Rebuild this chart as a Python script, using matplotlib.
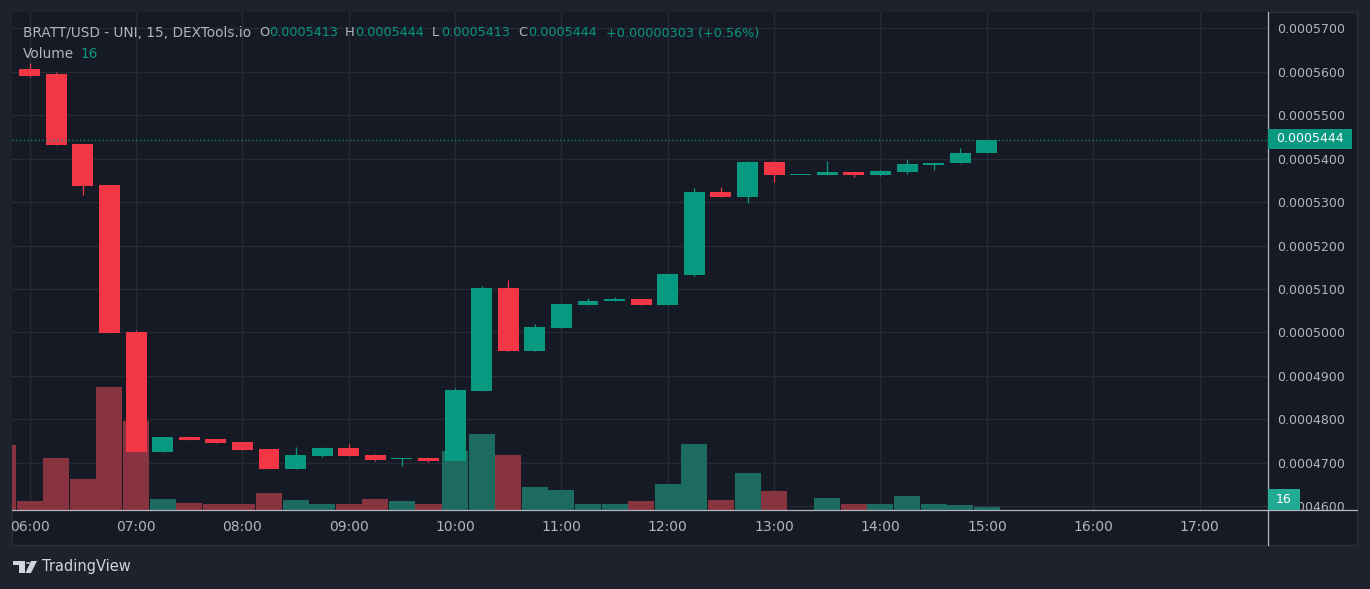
import matplotlib
matplotlib.use("Agg")
import matplotlib.pyplot as plt
from matplotlib.patches import Rectangle, Polygon, Circle
from matplotlib.lines import Line2D

# 15 min candles, BRATT/USD
times = ["06:00", "06:15", "06:30", "06:45", "07:00", "07:15", "07:30", "07:45",
         "08:00", "08:15", "08:30", "08:45", "09:00", "09:15", "09:30", "09:45",
         "10:00", "10:15", "10:30", "10:45", "11:00", "11:15", "11:30", "11:45",
         "12:00", "12:15", "12:30", "12:45", "13:00", "13:15", "13:30", "13:45",
         "14:00", "14:15", "14:30", "14:45", "15:00"]
opens = [0.0005607, 0.0005595, 0.0005434, 0.0005339, 0.0005001, 0.0004725, 0.0004759, 0.0004754,
         0.0004747, 0.0004731, 0.0004686, 0.0004716, 0.0004733, 0.0004717, 0.0004709, 0.0004710,
         0.0004703, 0.0004865, 0.0005102, 0.0004958, 0.0005011, 0.0005064, 0.0005071, 0.0005077,
         0.0005064, 0.0005133, 0.0005323, 0.0005312, 0.0005392, 0.0005362, 0.0005362, 0.0005369,
         0.0005362, 0.0005369, 0.0005386, 0.0005389, 0.0005413]
highs = [0.0005621, 0.0005600, 0.0005434, 0.0005340, 0.0005005, 0.0004759, 0.0004762, 0.0004754,
         0.0004747, 0.0004731, 0.0004736, 0.0004736, 0.0004743, 0.0004720, 0.0004711, 0.0004710,
         0.0004871, 0.0005107, 0.0005121, 0.0005019, 0.0005065, 0.0005079, 0.0005082, 0.0005077,
         0.0005134, 0.0005332, 0.0005335, 0.0005394, 0.0005394, 0.0005363, 0.0005394, 0.0005369,
         0.0005373, 0.0005399, 0.0005391, 0.0005424, 0.0005444]
lows = [0.0005589, 0.0005432, 0.0005316, 0.0004999, 0.0004725, 0.0004725, 0.0004753, 0.0004746,
        0.0004729, 0.0004686, 0.0004686, 0.0004713, 0.0004716, 0.0004703, 0.0004693, 0.0004701,
        0.0004703, 0.0004865, 0.0004958, 0.0004958, 0.0005011, 0.0005064, 0.0005071, 0.0005064,
        0.0005064, 0.0005130, 0.0005312, 0.0005298, 0.0005346, 0.0005362, 0.0005362, 0.0005357,
        0.0005360, 0.0005365, 0.0005374, 0.0005389, 0.0005413]
closes = [0.0005591, 0.0005432, 0.0005338, 0.0004999, 0.0004725, 0.0004759, 0.0004753, 0.0004746,
          0.0004729, 0.0004686, 0.0004717, 0.0004733, 0.0004716, 0.0004706, 0.0004711, 0.0004704,
          0.0004867, 0.0005102, 0.0004958, 0.0005012, 0.0005065, 0.0005072, 0.0005077, 0.0005064,
          0.0005134, 0.0005323, 0.0005312, 0.0005392, 0.0005362, 0.0005363, 0.0005369, 0.0005362,
          0.0005372, 0.0005388, 0.0005390, 0.0005413, 0.0005444]

# volume starts one bar earlier (05:45, cut at the left edge)
vol_times = ["05:45"] + times
volumes = [345, 48, 276, 164, 657, 477, 58, 37, 32, 32, 90, 53, 32, 32, 58, 48, 32,
           313, 408, 292, 122, 106, 32, 32, 48, 138, 350, 53, 196, 101, 2, 64, 32,
           32, 74, 32, 27, 16]

price_ticks = [0.00046, 0.00047, 0.00048, 0.00049, 0.00050, 0.00051,
               0.00052, 0.00053, 0.00054, 0.00055, 0.00056, 0.00057]
hour_ticks = ["06:00", "07:00", "08:00", "09:00", "10:00", "11:00",
              "12:00", "13:00", "14:00", "15:00", "16:00", "17:00"]

GREEN = "#089981"
RED = "#f23645"
VGREEN = "#1c6a60"
VRED = "#873440"
BG = "#161a25"
FRAME = "#1e222d"
GRID = "#262a35"
TXT = "#b2b5be"

W, H = 1370, 589


def hrs(s):
    h, m = s.split(":")
    return int(h) + int(m) / 60


def fx(px):
    return px / W


def fy(py):
    return 1 - py / H


x = [hrs(t) for t in times]
vx = [hrs(t) for t in vol_times]
up = [c >= o for o, c in zip(opens, closes)]
vcol = [VRED] + [VGREEN if u else VRED for u in up]

fig = plt.figure(figsize=(W / 100, H / 100), dpi=100, facecolor=FRAME)
fig.patches.append(Rectangle((fx(12), fy(545)), (1357 - 12) / W, (545 - 12) / H,
                             transform=fig.transFigure, fc=BG, ec="#2a2e39", lw=1, zorder=-5))

rect = [fx(12), fy(510), 1256 / W, 498 / H]
xlim = (5.8336, 17.644)
ylim = (0.00045906, 0.0005738)

# grid + tick labels
axg = fig.add_axes(rect)
axg.set_facecolor(BG)
axg.set_xlim(xlim)
axg.set_ylim(ylim)
axg.set_xticks([hrs(t) for t in hour_ticks])
axg.set_xticklabels(hour_ticks)
axg.set_yticks(price_ticks)
axg.set_yticklabels([f"{p:.7f}" for p in price_ticks])
axg.yaxis.tick_right()
axg.tick_params(axis="y", length=0, pad=6.5, labelsize=9, labelcolor=TXT)
axg.tick_params(axis="x", length=0, pad=7, labelsize=10, labelcolor=TXT)
axg.grid(True, color=GRID, lw=1)
for s in axg.spines.values():
    s.set_visible(False)
clip = Rectangle((fx(12), 0), 1256 / W, 1, transform=fig.transFigure)
for lab in axg.get_xticklabels():
    lab.set_clip_path(clip)

# volume
axv = fig.add_axes(rect)
axv.set_facecolor("none")
axv.bar(vx, volumes, width=0.245, color=vcol, lw=0)
axv.set_xlim(xlim)
axv.set_ylim(0, 16 * 498 / 3)
axv.axis("off")

# candles
ax = fig.add_axes(rect)
ax.set_facecolor("none")
ccol = [GREEN if u else RED for u in up]
ax.vlines(x, lows, highs, colors=ccol, lw=0.9)
bottoms = [min(o, c) for o, c in zip(opens, closes)]
heights = [max(abs(c - o), 2.4e-7) for o, c in zip(opens, closes)]
ax.bar(x, heights, bottom=bottoms, width=0.197, color=ccol, lw=0)
ax.axhline(closes[-1], color=GREEN, lw=0.9, ls=(0, (1, 2)))
ax.set_xlim(xlim)
ax.set_ylim(ylim)
ax.axis("off")

# axis lines
fig.add_artist(Line2D([fx(12), fx(1357)], [fy(510), fy(510)], transform=fig.transFigure,
                      color="#b2b5be", lw=0.9))
fig.add_artist(Line2D([fx(1268), fx(1268)], [fy(12), fy(545)], transform=fig.transFigure,
                      color="#b2b5be", lw=0.9))

# last price / volume tags
fig.patches.append(Rectangle((fx(1268), fy(149)), 84 / W, 20 / H, transform=fig.transFigure,
                             fc=GREEN, ec="none", zorder=5))
fig.text(fx(1276), fy(139), f"{closes[-1]:.7f}", color="white", fontsize=9,
         ha="left", va="center", zorder=6)
fig.patches.append(Rectangle((fx(1268), fy(510)), 32 / W, 21 / H, transform=fig.transFigure,
                             fc="#22ab94", ec="none", zorder=5))
fig.text(fx(1284), fy(499.5), str(volumes[-1]), color="white", fontsize=9,
         ha="center", va="center", zorder=6)

# header legend
hdr = [("BRATT/USD - UNI, 15, DEXTools.io", 23, TXT, 9.8),
       ("O", 259, TXT, 9.4), ("0.0005413", 269, GREEN, 9.2),
       ("H", 345, TXT, 9.4), ("0.0005444", 355, GREEN, 9.2),
       ("L", 432, TXT, 9.4), ("0.0005413", 441, GREEN, 9.2),
       ("C", 518, TXT, 9.4), ("0.0005444", 528, GREEN, 9.2),
       ("+0.00000303 (+0.56%)", 606, GREEN, 9.2)]
for s, px, c, fs in hdr:
    fig.text(fx(px), fy(33), s, color=c, fontsize=fs, ha="left", va="center")
fig.text(fx(23), fy(54), "Volume", color=TXT, fontsize=9.8, ha="left", va="center")
fig.text(fx(81), fy(54), "16", color=GREEN, fontsize=9.8, ha="left", va="center")

# TradingView mark
LOGO = "#d1d4dc"
fig.patches.append(Polygon([(fx(13), fy(561)), (fx(25), fy(561)), (fx(25), fy(573)),
                            (fx(19), fy(573)), (fx(19), fy(565)), (fx(13), fy(565))],
                           closed=True, transform=fig.transFigure, fc=LOGO, ec="none"))
fig.patches.append(Circle((fx(28), fy(563)), 2 / W, transform=fig.transFigure,
                          fc=LOGO, ec="none"))
fig.patches.append(Polygon([(fx(31), fy(561)), (fx(37), fy(561)), (fx(31), fy(573)),
                            (fx(25.5), fy(573))],
                           closed=True, transform=fig.transFigure, fc=LOGO, ec="none"))
fig.text(fx(42), fy(567), "TradingView", color=LOGO, fontsize=10.5, ha="left", va="center")

fig.savefig("out.png", dpi=100, facecolor=FRAME)
